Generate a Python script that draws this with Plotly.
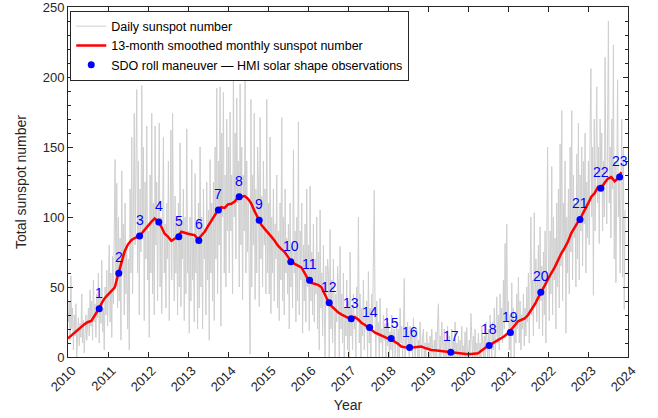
import plotly.graph_objects as go

# ---------------------------------------------------------------------------
# Data
# ---------------------------------------------------------------------------
YEARS = list(range(2010, 2025))

# Daily sunspot number, sampled ~weekly (48 values per year, Jan -> Dec)
daily_2010 = [25, 40, 12, 58, 20, 35, 5, 30, 15, 38, 0, 22,
              28, 8, 24, 14, 45, 10, 26, 3, 20, 30, 12, 22,
              35, 15, 48, 22, 40, 12, 55, 25, 38, 14, 45, 28,
              60, 10, 42, 24, 69, 18, 35, 5, 50, 30, 62, 22]
daily_2011 = [45, 80, 25, 60, 14, 72, 38, 90, 141, 50, 124, 35,
              100, 40, 85, 12, 133, 60, 95, 30, 110, 45, 80, 20,
              70, 5, 120, 60, 157, 45, 100, 174, 80, 130, 191, 60,
              140, 30, 120, 75, 194, 90, 150, 26, 125, 70, 165, 55]
daily_2012 = [90, 14, 130, 60, 174, 45, 110, 30, 165, 80, 125, 40,
              115, 167, 50, 100, 31, 120, 157, 60, 95, 35, 110, 70,
              140, 26, 120, 162, 55, 174, 90, 40, 115, 60, 100, 30,
              110, 50, 153, 36, 95, 70, 120, 26, 100, 45, 163, 60]
daily_2013 = [90, 17, 100, 40, 141, 55, 85, 25, 131, 60, 95, 20,
              110, 35, 150, 50, 100, 20, 120, 70, 90, 30, 125, 55,
              105, 12, 141, 60, 110, 40, 125, 26, 150, 70, 192, 45,
              140, 80, 193, 22, 160, 100, 189, 60, 130, 50, 170, 90]
daily_2014 = [150, 60, 175, 90, 130, 45, 210, 100, 160, 70, 185, 110,
              140, 50, 195, 80, 150, 41, 130, 90, 198, 60, 140, 75,
              110, 60, 2, 184, 50, 130, 80, 174, 41, 120, 60, 150,
              125, 36, 171, 70, 115, 50, 140, 80, 120, 45, 184, 60]
daily_2015 = [110, 45, 157, 31, 100, 60, 120, 40, 95, 70, 130, 35,
              90, 26, 110, 55, 171, 40, 100, 30, 120, 60, 85, 45,
              95, 20, 110, 50, 80, 35, 148, 60, 90, 25, 100, 40,
              168, 30, 90, 55, 110, 17, 80, 40, 95, 25, 120, 50]
daily_2016 = [80, 19, 122, 40, 75, 30, 95, 25, 70, 45, 100, 20,
              75, 5, 105, 35, 60, 15, 80, 30, 0, 65, 40, 70,
              60, 0, 91, 20, 55, 10, 70, 30, 0, 45, 25, 65,
              50, 0, 79, 20, 45, 10, 60, 0, 35, 15, 55, 5]
daily_2017 = [40, 0, 75, 15, 35, 5, 45, 20, 30, 0, 50, 25,
              100, 10, 45, 0, 35, 15, 55, 5, 30, 20, 40, 0,
              61, 10, 35, 0, 45, 20, 69, 119, 30, 0, 40, 15,
              25, 0, 42, 10, 20, 0, 30, 12, 24, 0, 35, 8]
daily_2018 = [24, 0, 18, 5, 30, 0, 15, 20, 0, 12, 25, 0,
              20, 0, 35, 10, 22, 0, 15, 56, 0, 20, 8, 25,
              15, 0, 22, 5, 18, 0, 28, 10, 0, 15, 20, 0,
              12, 0, 25, 8, 0, 15, 20, 0, 10, 0, 18, 5]
daily_2019 = [10, 0, 15, 0, 20, 5, 0, 12, 0, 18, 0, 24,
              38, 0, 15, 0, 25, 10, 0, 20, 0, 12, 0, 22,
              0, 15, 0, 8, 20, 0, 12, 0, 25, 0, 10, 0,
              15, 0, 12, 0, 22, 0, 8, 0, 18, 0, 21, 0]
daily_2020 = [0, 12, 0, 31, 5, 0, 15, 0, 20, 0, 10, 0,
              17, 0, 10, 0, 22, 5, 0, 15, 0, 25, 8, 0,
              20, 0, 30, 10, 0, 25, 5, 35, 0, 15, 43, 10,
              30, 5, 45, 15, 35, 10, 55, 20, 81, 30, 95, 25]
daily_2021 = [40, 5, 30, 0, 53, 15, 35, 0, 25, 10, 45, 20,
              57, 10, 40, 5, 30, 20, 45, 8, 35, 15, 50, 25,
              60, 10, 45, 100, 30, 55, 15, 103, 40, 70, 25, 60,
              80, 20, 93, 40, 65, 15, 75, 30, 90, 10, 60, 150]
daily_2022 = [70, 26, 90, 45, 136, 30, 100, 55, 85, 20, 110, 50,
              120, 35, 152, 65, 176, 40, 110, 75, 140, 17, 100, 60,
              120, 45, 150, 75, 176, 55, 130, 85, 110, 50, 145, 70,
              167, 55, 130, 90, 150, 65, 140, 95, 160, 60, 125, 85]
daily_2023 = [140, 80, 160, 206, 100, 150, 44, 170, 90, 140, 193, 110,
              150, 81, 170, 120, 160, 90, 140, 100, 214, 130, 95, 160,
              240, 110, 150, 85, 170, 120, 223, 70, 140, 53, 160, 198,
              100, 130, 60, 112, 170, 57, 150, 34, 105]

daily_by_year = [daily_2010, daily_2011, daily_2012, daily_2013, daily_2014,
                 daily_2015, daily_2016, daily_2017, daily_2018, daily_2019,
                 daily_2020, daily_2021, daily_2022, daily_2023]

# 13-month smoothed monthly sunspot number, Jan 2010 onwards (monthly)
smoothed_ssn = [
    13.3, 15.5, 17.5, 19.5, 21.5, 23.5, 25.0, 25.8, 29.5, 33.5, 38.0, 42.0,   # 2010
    44.5, 47.0, 49.5, 58.5, 68.0, 75.5, 80.5, 83.5, 85.0, 86.0, 88.0, 91.0,   # 2011
    93.5, 96.5, 99.0, 97.0, 93.0, 88.0, 86.0, 83.0, 84.5, 86.0, 89.5, 88.5,   # 2012
    88.0, 87.5, 87.0, 84.0, 86.5, 89.5, 93.5, 97.5, 101.5, 105.0, 107.0, 106.5,  # 2013
    109.0, 109.5, 111.0, 114.0, 114.5, 115.0, 113.0, 109.5, 104.0, 99.0, 94.5, 91.5,  # 2014
    89.0, 86.0, 83.0, 79.5, 77.0, 75.0, 71.5, 68.0, 66.5, 65.5, 64.0, 60.0,   # 2015
    55.5, 53.0, 52.5, 51.5, 50.0, 45.0, 40.0, 36.5, 34.0, 32.0, 30.5, 29.0,   # 2016
    28.0, 27.5, 28.5, 27.0, 24.5, 23.0, 21.5, 19.5, 17.5, 16.5, 15.5, 14.5,   # 2017
    13.5, 12.5, 11.0, 9.5, 7.5, 7.0, 6.8, 6.7, 7.0, 7.2, 7.5, 6.5,            # 2018
    5.5, 5.0, 4.8, 4.5, 4.3, 4.0, 3.7, 3.5, 3.0, 2.5, 2.1, 1.9,               # 2019
    1.9, 2.2, 2.4, 2.6, 4.5, 6.5, 8.0, 9.2, 10.5, 12.0, 13.2, 15.0,           # 2020
    17.0, 19.5, 22.5, 25.5, 26.5, 27.5, 30.0, 33.5, 37.5, 42.0, 46.5, 51.5,   # 2021
    56.5, 60.0, 64.0, 69.5, 74.0, 78.0, 82.5, 88.5, 93.0, 96.5, 100.5, 104.5, # 2022
    109.5, 114.5, 117.0, 121.5, 121.0, 124.5, 127.5, 128.5, 125.5, 127.5, 132.0,  # 2023
]

# SDO roll maneuvers (HMI solar shape observations)
roll_times = [2010.78, 2011.27, 2011.79, 2012.27, 2012.77, 2013.27, 2013.76,
              2014.28, 2014.78, 2015.57, 2016.04, 2016.53, 2017.08, 2017.54,
              2018.08, 2018.54, 2019.57, 2020.53, 2021.06, 2021.82, 2022.80,
              2023.32, 2023.79]
roll_ssn = [34.5, 59.8, 86.4, 96.4, 85.9, 83.3, 105.0,
            114.4, 97.7, 68.1, 54.8, 38.7, 27.4, 21.0,
            13.2, 6.7, 3.4, 8.3, 17.5, 46.3, 98.3,
            120.5, 128.5]
roll_labels = [str(i) for i in range(1, len(roll_times) + 1)]

# ---------------------------------------------------------------------------
# Build series
# ---------------------------------------------------------------------------
daily_x, daily_y = [], []
for year, vals in zip(YEARS, daily_by_year):
    for i, v in enumerate(vals):
        daily_x.append(year + (i + 0.5) / 48)
        daily_y.append(v)

smooth_x = [2010 + i / 12 for i in range(len(smoothed_ssn))]

FONT = "Liberation Sans, Arial, Helvetica, sans-serif"
AXIS_COLOR = "#262626"

fig = go.Figure()

fig.add_trace(go.Scatter(
    x=daily_x, y=daily_y, mode="lines",
    line=dict(color="#cfcfcf", width=1),
    name="Daily sunspot number",
))
fig.add_trace(go.Scatter(
    x=smooth_x, y=smoothed_ssn, mode="lines",
    line=dict(color="#ff0000", width=2.5),
    name="13-month smoothed monthly sunspot number",
))
fig.add_trace(go.Scatter(
    x=roll_times, y=roll_ssn, mode="markers",
    marker=dict(color="#0000ff", size=7),
    name="SDO roll maneuver \u2014 HMI solar shape observations",
))

# Number each roll maneuver just above its marker
for t, v, lab in zip(roll_times, roll_ssn, roll_labels):
    fig.add_annotation(
        x=t, y=v, text=lab, showarrow=False,
        yanchor="bottom", yshift=6,
        font=dict(color="#0000ff", size=14, family=FONT),
    )

fig.update_layout(
    width=658, height=418,
    margin=dict(l=68, r=30, t=7, b=61),
    plot_bgcolor="white", paper_bgcolor="white",
    font=dict(family=FONT, color=AXIS_COLOR, size=13),
    showlegend=True,
    legend=dict(
        x=0.004, y=0.99, xanchor="left", yanchor="top",
        bgcolor="white", bordercolor=AXIS_COLOR, borderwidth=1,
        font=dict(size=12.5, color="#000000", family=FONT),
        tracegroupgap=0, itemwidth=30,
    ),
)

fig.update_xaxes(
    range=[2010, 2024], automargin=False,
    tickmode="array", tickvals=YEARS, ticktext=[str(y) for y in YEARS],
    tickangle=-45, ticklabelshift=4,
    ticks="inside", ticklen=5, tickcolor=AXIS_COLOR,
    showline=True, linecolor=AXIS_COLOR, linewidth=1, mirror="allticks",
    showgrid=False, zeroline=False,
    title=dict(text="Year", font=dict(size=14), standoff=6),
    tickfont=dict(size=13),
)
fig.update_yaxes(
    range=[0, 250], dtick=50, tick0=0, automargin=False,
    ticklabeloverflow="allow",
    ticks="inside", ticklen=5, tickcolor=AXIS_COLOR,
    minor=dict(dtick=10, ticks="inside", ticklen=3, tickcolor=AXIS_COLOR),
    showline=True, linecolor=AXIS_COLOR, linewidth=1, mirror="allticks",
    showgrid=False, zeroline=False,
    title=dict(text="Total sunspot number", font=dict(size=14), standoff=12),
    tickfont=dict(size=13),
)

fig.write_html("out.html")
